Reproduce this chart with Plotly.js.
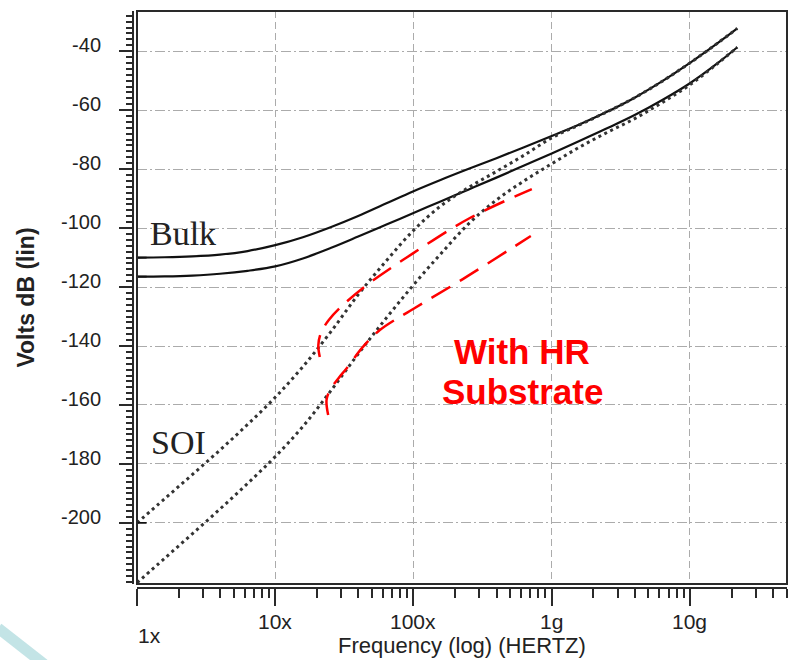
<!DOCTYPE html>
<html>
<head>
<meta charset="utf-8">
<script src="https://cdn.plot.ly/plotly-3.0.1.min.js"></script>
<style>
  html, body { margin: 0; padding: 0; background: #fff; }
  #chart { width: 792px; height: 660px; }
</style>
</head>
<body>
<div id="chart"></div>
<script>
// ---- data (frequency in Hz, level in dB) ----
const freqHz = [1e6, 1.585e6, 2.512e6, 3.981e6, 6.31e6,
                1e7, 1.585e7, 2.512e7, 3.981e7, 6.31e7,
                1e8, 1.585e8, 2.512e8, 3.981e8, 6.31e8,
                1e9, 1.585e9, 2.512e9, 3.981e9, 6.31e9,
                1e10, 1.585e10, 2.2e10];

const bulkUpperDb = [-110, -109.9, -109.6, -109.0, -107.8,
                     -105.8, -103.1, -99.7, -95.9, -91.7,
                     -87.5, -83.6, -79.9, -76.3, -72.6,
                     -68.8, -64.9, -60.6, -55.8, -50.2,
                     -44.0, -37.3, -32.3];
const bulkLowerDb = [-116.5, -116.4, -116.1, -115.5, -114.5,
                     -113.0, -110.3, -106.8, -102.9, -98.9,
                     -94.9, -90.9, -86.9, -82.9, -78.8,
                     -74.7, -70.5, -66.2, -61.7, -56.6,
                     -50.9, -44.1, -38.7];
const soiUpperDb  = [-200, -191.8, -183.6, -175.3, -166.6,
                     -157.4, -147.0, -135.3, -122.6, -111.3,
                     -100.8, -92.4, -86.2, -80.8, -75.3,
                     -69.4, -65.0, -60.6, -55.8, -50.2,
                     -44.0, -37.3, -32.3];
const soiLowerDb  = [-220.3, -212.0, -203.7, -195.3, -186.6,
                     -177.5, -167.3, -155.3, -142.7, -130.7,
                     -119.3, -108.6, -98.5, -90.5, -84.0,
                     -78.2, -72.6, -67.6, -62.9, -57.4,
                     -51.4, -44.2, -38.7];

// hand-drawn red "With HR Substrate" sketches
const hrUpperHz = [2.10e7, 2.05e7, 2.14e7, 2.44e7, 3.09e7, 4.60e7, 9.91e7, 2.56e8, 7.18e8];
const hrUpperDb = [-143.7, -139.7, -135.6, -131.2, -126.1, -119.3, -108.6, -96.6, -86.8];
const hrLowerHz = [2.415e7, 2.35e7, 2.49e7, 2.86e7, 3.28e7, 4.31e7, 5.71e7, 1.023e8, 2.275e8, 7.06e8];
const hrLowerDb = [-163.4, -158.3, -154.9, -151, -147.6, -140.3, -134.6, -127.1, -117.3, -102.7];

// axis ticks
const xTickVals = [1e6, 1e7, 1e8, 1e9, 1e10];
const xTickText = ['1x', '10x', '100x', '1g', '10g'];
const yTickVals = [-200, -180, -160, -140, -120, -100, -80, -60, -40];
const yTickText = ['-200', '-180', '-160', '-140', '-120', '-100', '-80', '-60', '-40'];

// ---- styling ----
const AX = '#2a2a2a';
const GRID = '#ababab';
const SANS = 'Arial, "Liberation Sans", sans-serif';
const SERIF = '"Times New Roman", "Liberation Serif", serif';

const xMinor = [];
for (let d = 6; d <= 10; d++) for (let m = 2; m <= 9; m++) xMinor.push(m * Math.pow(10, d));

const solid = (y, name) => ({
  x: freqHz, y: y, name: name, mode: 'lines', type: 'scatter',
  line: { color: '#111', width: 2.2, shape: 'spline', smoothing: 1 }, hoverinfo: 'skip'
});
const dotted = (y, name) => ({
  x: freqHz, y: y, name: name, mode: 'lines', type: 'scatter',
  line: { color: '#333', width: 3, dash: '3px,3.6px', shape: 'spline', smoothing: 1 }, hoverinfo: 'skip'
});
const red = (x, y, name) => ({
  x: x, y: y, name: name, mode: 'lines', type: 'scatter',
  line: { color: '#ff0000', width: 2.5, dash: '22px,11px', shape: 'spline', smoothing: 1 }, hoverinfo: 'skip'
});
const arrow = (y, name) => ({
  x: [freqHz[0]], y: [y[0]], name: name, mode: 'markers', type: 'scatter', cliponaxis: true,
  marker: { symbol: 'y-right', size: 12, color: '#111', line: { color: '#111', width: 1.8 } }, hoverinfo: 'skip'
});

const traces = [
  solid(bulkUpperDb, 'Bulk upper'),
  solid(bulkLowerDb, 'Bulk lower'),
  dotted(soiUpperDb, 'SOI upper'),
  dotted(soiLowerDb, 'SOI lower'),
  red(hrUpperHz, hrUpperDb, 'HR upper'),
  red(hrLowerHz, hrLowerDb, 'HR lower'),
  arrow(bulkUpperDb, 'arrow1'),
  arrow(bulkLowerDb, 'arrow2'),
  arrow(soiUpperDb, 'arrow3')
];

// paper coordinates helpers (paper spans x 133..787, y 11..588 px)
const px = v => (v - 133) / 654;
const py = v => (588 - v) / 577;

const annotations = [];
xTickVals.forEach((v, i) => {
  const first = i === 0;
  annotations.push({
    xref: 'x', yref: 'paper', x: Math.log10(v), y: py(first ? 635 : 621),
    xshift: first ? 12 : 0, text: xTickText[i], showarrow: false,
    xanchor: 'center', yanchor: 'middle',
    font: { family: SANS, size: 21, color: '#222' }
  });
});
annotations.push(
  { xref: 'paper', yref: 'paper', x: px(183), y: py(234), text: 'Bulk', showarrow: false,
    xanchor: 'center', yanchor: 'middle', font: { family: SERIF, size: 34, color: '#222' } },
  { xref: 'paper', yref: 'paper', x: px(178), y: py(442), text: 'SOI', showarrow: false,
    xanchor: 'center', yanchor: 'middle', font: { family: SERIF, size: 34, color: '#222' } },
  { xref: 'paper', yref: 'paper', x: px(522), y: py(351), text: 'With HR', showarrow: false,
    xanchor: 'center', yanchor: 'middle',
    font: { family: SANS, size: 35, color: '#ff0000', weight: 'bold' } },
  { xref: 'paper', yref: 'paper', x: px(522), y: py(391), text: 'Substrate', showarrow: false,
    xanchor: 'center', yanchor: 'middle',
    font: { family: SANS, size: 35, color: '#ff0000', weight: 'bold' } }
);

const layout = {
  width: 792, height: 660,
  paper_bgcolor: '#fff', plot_bgcolor: '#fff',
  margin: { l: 133, r: 5, t: 11, b: 72, pad: 0 },
  showlegend: false,
  xaxis: {
    type: 'log', range: [6, 10.702], domain: [4 / 654, 1],
    anchor: 'free', position: 0, automargin: false,
    showline: true, linecolor: AX, linewidth: 2,
    ticks: 'outside', ticklen: 17, tickwidth: 2, tickcolor: AX,
    tickmode: 'array', tickvals: xTickVals, showticklabels: false,
    showgrid: true, gridcolor: GRID, gridwidth: 1, griddash: '7px,4px', zeroline: false,
    minor: { tickmode: 'array', tickvals: xMinor, ticks: 'outside', ticklen: 9, tickwidth: 2,
             tickcolor: AX, showgrid: false },
    title: { text: 'Frequency (log) (HERTZ)', font: { family: SANS, size: 22, color: '#222' }, standoff: 32 }
  },
  yaxis: {
    range: [-220.7, -26.4], domain: [4 / 577, 1],
    anchor: 'free', position: 0, automargin: false,
    showline: true, linecolor: AX, linewidth: 2,
    ticks: 'outside', ticklen: 13, tickwidth: 2, tickcolor: AX,
    tickmode: 'array', tickvals: yTickVals, ticktext: yTickText,
    tickfont: { family: SANS, size: 20, color: '#222' },
    ticklabelstandoff: 14, ticklabelshift: -6,
    showgrid: true, gridcolor: GRID, gridwidth: 1, griddash: '10px,3px,2px,3px', zeroline: false,
    minor: { dtick: 2, tick0: 0, ticks: 'outside', ticklen: 6, tickwidth: 2, tickcolor: AX, showgrid: false },
    title: { text: 'Volts dB (lin)', font: { family: SANS, size: 23, color: '#222', weight: 'bold' }, standoff: 19 }
  },
  shapes: [
    { type: 'rect', xref: 'x domain', yref: 'y domain', x0: 0, x1: 1, y0: 0, y1: 1,
      line: { color: AX, width: 2 }, fillcolor: 'rgba(0,0,0,0)', layer: 'above' },
    { type: 'line', xref: 'paper', yref: 'paper', x0: px(-2), y0: py(628), x1: px(44), y1: py(664),
      line: { color: '#c3e4e6', width: 11 } }
  ],
  annotations: annotations
};

Plotly.newPlot('chart', traces, layout, { staticPlot: true, displayModeBar: false });
</script>
</body>
</html>
